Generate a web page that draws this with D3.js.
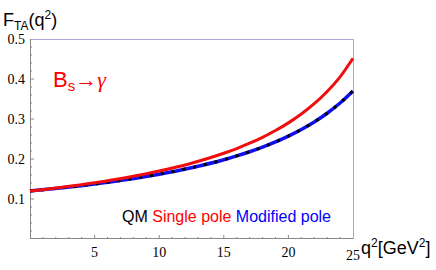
<!DOCTYPE html>
<html>
<head>
<meta charset="utf-8">
<script src="https://cdn.jsdelivr.net/npm/d3@7"></script>
<style>
  body { margin: 0; background: #fff; }
  svg { display: block; }
</style>
</head>
<body>
<svg width="436" height="270"></svg>
<script>
// values
var q2 = [0, 2.5, 5, 7.5, 10, 12.5, 15, 16, 17, 18, 19, 20, 21, 22, 23, 24, 25];
var singlePole = [0.120, 0.1295, 0.1406, 0.1538, 0.1698, 0.1895, 0.2143, 0.2261, 0.2394, 0.2542,
  0.2711, 0.2903, 0.3125, 0.3383, 0.3689, 0.4054, 0.452];
var modifiedPole = [0.120, 0.1281, 0.1376, 0.1487, 0.162, 0.1782, 0.1982, 0.2077, 0.2181, 0.2296,
  0.2426, 0.2571, 0.2737, 0.2926, 0.3144, 0.3399, 0.370];
var qm = modifiedPole.slice();
var xTicks = [5, 10, 15, 20, 25];
var yTicks = [0.1, 0.2, 0.3, 0.4, 0.5];

var svg = d3.select("svg");
var pLeft = 30, pRight = 353, pTop = 39, pBottom = 239;

var x = d3.scaleLinear().domain([0, 25]).range([pLeft, pRight]);
var y = d3.scaleLinear().domain([0, 0.5]).range([pBottom, pTop]);

// frame (top / right in light blue)
svg.append("line").attr("x1", pLeft).attr("x2", pRight).attr("y1", pTop + 0.5).attr("y2", pTop + 0.5)
  .attr("stroke", "#a8a8d8").attr("stroke-width", 1);
svg.append("line").attr("x1", pRight + 0.5).attr("x2", pRight + 0.5).attr("y1", pTop).attr("y2", pBottom)
  .attr("stroke", "#a8a8d8").attr("stroke-width", 1);

// axes
var axisCol = "#888";
svg.append("line").attr("x1", pLeft + 0.5).attr("x2", pLeft + 0.5).attr("y1", pTop).attr("y2", pBottom)
  .attr("stroke", axisCol);
svg.append("line").attr("x1", pLeft).attr("x2", pRight).attr("y1", pBottom - 0.5).attr("y2", pBottom - 0.5)
  .attr("stroke", axisCol);

// ticks
d3.range(1, 25).forEach(function (v) {
  var major = v % 5 === 0;
  svg.append("line").attr("x1", x(v)).attr("x2", x(v))
    .attr("y1", pBottom).attr("y2", pBottom - (major ? 4 : 2))
    .attr("stroke", axisCol);
});
d3.range(1, 25).forEach(function (i) {
  var v = i * 0.02;
  var major = i % 5 === 0;
  svg.append("line").attr("x1", pLeft).attr("x2", pLeft + (major ? 4 : 2))
    .attr("y1", y(v)).attr("y2", y(v))
    .attr("stroke", axisCol);
});

// tick labels
svg.selectAll(".yl").data(yTicks).enter().append("text")
  .attr("x", 25).attr("y", function (d) { return y(d) + 5; })
  .attr("text-anchor", "end")
  .style("font", "14px 'Liberation Serif', serif")
  .text(function (d) { return d.toFixed(1); });

svg.selectAll(".xl").data(xTicks).enter().append("text")
  .attr("x", function (d) { return x(d); })
  .attr("y", function (d) { return d === 25 ? 260 : 257; })
  .attr("text-anchor", "middle")
  .style("font", "14px 'Liberation Serif', serif")
  .text(function (d) { return d; });

// curves
var line = d3.line()
  .x(function (d, i) { return x(q2[i]); })
  .y(function (d) { return y(d); })
  .curve(d3.curveMonotoneX);

svg.append("path").datum(modifiedPole).attr("d", line)
  .attr("fill", "none").attr("stroke", "#1010ee").attr("stroke-width", 3.5);
svg.append("path").datum(qm).attr("d", line)
  .attr("fill", "none").attr("stroke", "#000").attr("stroke-width", 3)
  .attr("stroke-dasharray", "3,8");
svg.append("path").datum(singlePole).attr("d", line)
  .attr("fill", "none").attr("stroke", "#f00d0d").attr("stroke-width", 3);

// axis titles
var sans = "'Liberation Sans', Arial, sans-serif";
var yt = svg.append("text").attr("x", 3).attr("y", 26).style("font", "18px " + sans);
yt.append("tspan").text("F");
yt.append("tspan").attr("dy", 4).style("font-size", "12px").text("TA");
yt.append("tspan").attr("dy", -4).text("(q");
yt.append("tspan").attr("dy", -7).style("font-size", "12px").text("2");
yt.append("tspan").attr("dy", 7).text(")");

var xt = svg.append("text").attr("x", 361).attr("y", 254).style("font", "18px " + sans);
xt.append("tspan").text("q");
xt.append("tspan").attr("dy", -7).style("font-size", "12px").text("2");
xt.append("tspan").attr("dy", 7).text("[GeV");
xt.append("tspan").attr("dy", -7).style("font-size", "12px").text("2");
xt.append("tspan").attr("dy", 7).text("]");

// process label
var bt = svg.append("text").attr("x", 53).attr("y", 87).attr("fill", "#f00")
  .style("font", "22px " + sans);
bt.append("tspan").text("B");
bt.append("tspan").attr("dy", 4).style("font-size", "15px").text("s");
bt.append("tspan").attr("dy", -4).text("\u2192");
bt.append("tspan").style("font-style", "italic").style("font-family", "'Liberation Serif', serif").text("\u03b3");

// legend
var lg = svg.append("text").attr("x", 122).attr("y", 222).style("font", "16px " + sans);
lg.append("tspan").attr("fill", "#000").text("QM ");
lg.append("tspan").attr("fill", "#f00").text("Single pole ");
lg.append("tspan").attr("fill", "#00f").text("Modified pole");
</script>
</body>
</html>
